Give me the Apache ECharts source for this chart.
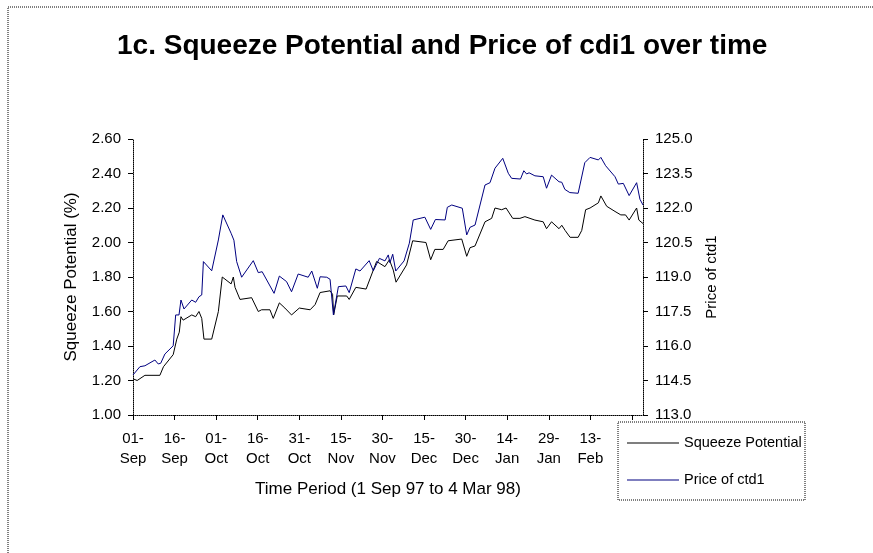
<!DOCTYPE html>
<html>
<head>
<meta charset="utf-8">
<title>Squeeze Potential and Price</title>
<script src="https://cdn.jsdelivr.net/npm/echarts@6/dist/echarts.min.js"></script>
<style>
  html, body { margin: 0; padding: 0; background: #fff; }
  #chart { width: 873px; height: 553px; }
</style>
</head>
<body>
<div id="chart"></div>
<script>
  // x positions are days counted from 1 Sep 97
  const xTickLabels = ['01-\nSep', '16-\nSep', '01-\nOct', '16-\nOct', '31-\nOct', '15-\nNov',
    '30-\nNov', '15-\nDec', '30-\nDec', '14-\nJan', '29-\nJan', '13-\nFeb']

  const sqzDays = [0, 1.5, 4.3, 9.7, 11, 14.5, 15.8, 16.7, 17.3, 18.1, 21.2, 22.6, 23.8, 24.8, 25.6,
    28.4, 30.8, 32.2, 35.4, 36.2, 36.8, 38.6, 42.8, 43.4, 45.2, 46.4, 49.4, 50.6, 52.8, 54.8, 57.2,
    60, 63.9, 65.7, 67.5, 71.1, 72, 72.4, 73.7, 77.1, 78, 80.4, 84.1, 86.7, 87.9, 90.9, 92.5, 93.9,
    94.9, 98.7, 100.9, 105.7, 107.4, 108.9, 111.9, 113.7, 118.6, 120.4, 121.6, 123.4, 127, 129.4,
    130.6, 133, 134.6, 137, 139.6, 141.4, 142, 145, 148, 149.2, 151, 153.7, 154.7, 155.9, 157.7,
    160.6, 161.9, 163.3, 164.9, 167.9, 168.8, 170.9, 173.9, 176, 177.7, 179, 181.7, 182.5, 184]
  const sqzValues = [1.21, 1.20, 1.23, 1.23, 1.28, 1.35, 1.44, 1.48, 1.57, 1.55, 1.58, 1.57, 1.60,
    1.56, 1.44, 1.44, 1.60, 1.80, 1.76, 1.80, 1.74, 1.67, 1.68, 1.69, 1.60, 1.61, 1.61, 1.56, 1.65,
    1.62, 1.58, 1.62, 1.61, 1.64, 1.71, 1.72, 1.70, 1.58, 1.69, 1.69, 1.67, 1.74, 1.73, 1.84, 1.89,
    1.86, 1.90, 1.84, 1.77, 1.87, 2.01, 2.00, 1.90, 1.96, 1.96, 2.01, 2.02, 1.92, 1.97, 1.98, 2.12,
    2.14, 2.20, 2.19, 2.20, 2.14, 2.14, 2.15, 2.14, 2.13, 2.12, 2.08, 2.12, 2.08, 2.10, 2.07, 2.03,
    2.03, 2.07, 2.19, 2.20, 2.23, 2.27, 2.21, 2.18, 2.16, 2.16, 2.13, 2.20, 2.13, 2.11]

  const priceDays = [0, 2.5, 4.3, 7.9, 9.1, 10, 11.5, 14.5, 15.4, 16.6, 17.3, 18.4, 21.2, 22.6, 23.8,
    24.8, 25.4, 28.4, 30.8, 32.4, 35.4, 36.4, 37.4, 39.2, 43.4, 45.2, 46.6, 50.9, 52.8, 55.4, 57.2,
    59.6, 63.2, 64.5, 66.5, 67.5, 69.9, 71.1, 72.3, 74.1, 76.8, 78, 80.4, 81.9, 85.2, 86.7, 88.9,
    90.9, 92.1, 92.7, 93.7, 94.8, 97.8, 99.7, 101.1, 105.3, 107.4, 109.1, 112.6, 113.4, 115, 118.8,
    120.4, 121.6, 123.4, 127, 128.8, 130.6, 133.4, 135.4, 136.6, 139.8, 141, 142, 142.9, 145, 148,
    149.2, 151, 153.7, 154.7, 155.8, 157.6, 160.6, 163, 164.9, 167.9, 168.8, 170.5, 173.9, 175.1,
    176.9, 179, 181.7, 182.9, 184]
  const priceValues = [114.74, 115.10, 115.14, 115.39, 115.22, 115.25, 115.65, 116.01, 117.35,
    117.35, 118.00, 117.61, 118.00, 117.90, 118.14, 118.22, 119.67, 119.27, 120.61, 121.70, 120.90,
    120.60, 119.67, 118.99, 119.71, 119.19, 119.23, 118.29, 119.04, 118.80, 118.36, 119.13, 118.99,
    119.26, 118.51, 119.01, 118.99, 118.90, 117.35, 118.58, 118.61, 118.32, 119.35, 119.26, 119.71,
    119.27, 119.81, 119.70, 119.96, 119.62, 119.99, 119.26, 119.70, 120.47, 121.48, 121.60, 121.07,
    121.50, 121.48, 122.03, 122.13, 121.99, 120.83, 121.16, 121.26, 123.00, 123.10, 123.73, 124.16,
    123.51, 123.29, 123.26, 123.62, 123.48, 123.53, 123.40, 123.36, 122.86, 123.43, 123.14, 123.12,
    122.81, 122.67, 122.64, 123.97, 124.20, 124.09, 124.20, 123.84, 123.36, 123.04, 123.07, 122.54,
    123.10, 122.38, 122.13]

  const font = 'Liberation Sans, Arial, sans-serif'

  const myChart = echarts.init(document.getElementById('chart'), null, { renderer: 'canvas' })

  const option = {
    backgroundColor: '#fff',
    animation: false,
    title: {
      text: '1c. Squeeze Potential and Price of cdi1 over time',
      left: 112,
      top: 27,
      textStyle: { fontFamily: font, fontSize: 28, fontWeight: 'bold', color: '#000' }
    },
    grid: { left: 133, right: 230, top: 139, bottom: 138 },
    legend: {
      orient: 'vertical',
      left: 627,
      top: 435,
      padding: 0,
      icon: 'rect',
      itemWidth: 52,
      itemHeight: 1,
      itemGap: 21,
      textStyle: { fontFamily: font, fontSize: 14.5, color: '#000', lineHeight: 16 },
      data: ['Squeeze Potential', 'Price of ctd1']
    },
    graphic: [
      {
        type: 'rect',
        shape: { x: 8, y: 7, width: 900, height: 600 },
        style: { fill: 'none', stroke: '#000', lineWidth: 1, lineDash: [1, 1] }
      },
      {
        type: 'rect',
        shape: { x: 618, y: 422, width: 187, height: 78 },
        style: { fill: 'none', stroke: '#000', lineWidth: 1, lineDash: [1, 1] }
      }
    ],
    xAxis: {
      type: 'value',
      min: 0,
      max: 184,
      interval: 15,
      name: 'Time Period (1 Sep 97 to 4 Mar 98)',
      nameLocation: 'middle',
      nameGap: 66,
      nameTextStyle: { fontFamily: font, fontSize: 17, color: '#000' },
      splitLine: { show: false },
      axisLine: { lineStyle: { color: '#000', width: 1, type: 'dotted' } },
      axisTick: { show: true, length: 5, lineStyle: { color: '#000' } },
      axisLabel: {
        margin: 14,
        fontFamily: font,
        fontSize: 15,
        lineHeight: 20,
        color: '#000',
        showMaxLabel: false,
        formatter: (v) => (v % 15 === 0 ? (xTickLabels[v / 15] || '') : '')
      }
    },
    yAxis: [
      {
        type: 'value',
        min: 1,
        max: 2.6,
        interval: 0.2,
        name: 'Squeeze Potential (%)',
        nameLocation: 'middle',
        nameGap: 53,
        nameTextStyle: { fontFamily: font, fontSize: 17, color: '#000' },
        splitLine: { show: false },
        axisLine: { show: true, lineStyle: { color: '#000', width: 1, type: 'dotted' } },
        axisTick: { show: true, length: 5, lineStyle: { color: '#000' } },
        axisLabel: {
          margin: 12,
          fontFamily: font,
          fontSize: 15,
          color: '#000',
          formatter: (v) => v.toFixed(2)
        }
      },
      {
        type: 'value',
        min: 113,
        max: 125,
        interval: 1.5,
        position: 'right',
        name: 'Price of ctd1',
        nameLocation: 'middle',
        nameGap: 61,
        nameTextStyle: { fontFamily: font, fontSize: 15, color: '#000' },
        splitLine: { show: false },
        axisLine: { show: true, lineStyle: { color: '#000', width: 1, type: 'dotted' } },
        axisTick: { show: true, length: 5, lineStyle: { color: '#000' } },
        axisLabel: {
          margin: 12,
          fontFamily: font,
          fontSize: 15,
          color: '#000',
          formatter: (v) => v.toFixed(1)
        }
      }
    ],
    series: [
      {
        name: 'Squeeze Potential',
        type: 'line',
        yAxisIndex: 0,
        symbol: 'none',
        color: '#000000',
        lineStyle: { color: '#000000', width: 1 },
        data: sqzDays.map((d, i) => [d, sqzValues[i]])
      },
      {
        name: 'Price of ctd1',
        type: 'line',
        yAxisIndex: 1,
        symbol: 'none',
        color: '#000080',
        lineStyle: { color: '#000080', width: 1 },
        data: priceDays.map((d, i) => [d, priceValues[i]])
      }
    ]
  }

  myChart.setOption(option)
</script>
</body>
</html>
